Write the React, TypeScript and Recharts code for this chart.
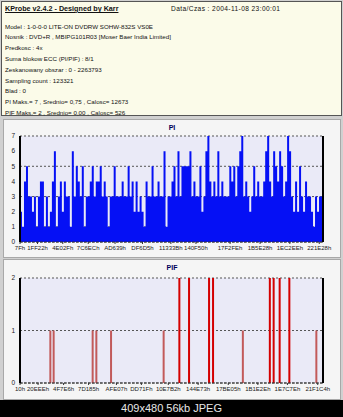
import React from 'react';
import { ComposedChart, Area, Bar, Cell, XAxis, YAxis, CartesianGrid } from 'recharts';

// scanned range (LBA)
const scanStart = 0;
const scanEnd = 2263793;

const headerLines = [
  'Model : 1-0-0-0 LITE-ON DVDRW SOHW-832S  VS0E',
  'Nosnik : DVD+R , MBIPG101R03 [Moser Baer India Limited]',
  'Predkosc : 4x',
  'Suma blokow ECC (PI/PIF) : 8/1',
  'Zeskanowany obszar : 0 - 2263793',
  'Sampling count : 123321',
  'Blad : 0',
  'PI Maks.= 7 , Srednio= 0,75 , Calosc= 12673',
  'PIF Maks.= 2 , Srednio= 0,00 , Calosc= 526',
];

// PI per sampling bin, read left to right
const piValues = [
  2, 1, 4, 5, 3, 3, 2, 3, 1, 3, 4, 4, 1, 3, 1, 2, 4, 6, 1, 3,
  4, 2, 4, 3, 3, 1, 6, 3, 5, 4, 3, 5, 1, 3, 3, 4, 5, 3, 4, 4,
  5, 3, 4, 3, 1, 3, 3, 5, 3, 3, 3, 4, 3, 3, 5, 3, 4, 2, 4, 2,
  3, 2, 1, 4, 3, 3, 5, 3, 3, 4, 3, 3, 6, 1, 3, 3, 4, 5, 3, 6,
  3, 5, 5, 5, 5, 6, 3, 4, 3, 3, 5, 2, 3, 6, 7, 4, 3, 4, 3, 6,
  3, 4, 3, 3, 3, 5, 4, 5, 3, 5, 6, 7, 3, 4, 3, 2, 3, 5, 3, 4,
  3, 3, 4, 6, 7, 4, 3, 6, 5, 4, 6, 5, 3, 4, 7, 6, 3, 2, 4, 2,
  5, 3, 2, 4, 3, 3, 2, 1, 3, 2, 3, 3,
];
const piTickLabels = ['7Fh', '1FF22h', '4E02Fh', '7C6ECh', 'AD639h', 'DF6D5h', '11333Bh', '140F50h', '17F2FEh', '1B5E28h', '1EC2EEh', '221E28h'];
const piYTicks = [0, 1, 2, 3, 4, 5, 6, 7];

// PIF hits: position (LBA) and count
const pifLba = [224100, 248800, 540200, 567800, 677600, 1070600, 1188000, 1260400, 1409800, 1439700, 1662400, 1864000, 1892500, 1937300, 2009800, 2211500];
const pifValues = [1, 1, 1, 1, 1, 1, 2, 2, 2, 2, 1, 2, 2, 2, 2, 1];
const pifTickLabels = ['10h', '20EEEh', '4F7E6h', '7D185h', 'AFE07h', 'DD71Fh', '10E7B2h', '144E73h', '17BE05h', '1B1E2Eh', '1E7C7Eh', '21F1C4h'];
const pifYTicks = [0, 1, 2];

const piData = piValues
  .map((v, i) => ({ lba: scanStart + Math.round((i * (scanEnd - scanStart)) / piValues.length), pi: v }))
  .concat([{ lba: scanEnd, pi: piValues[piValues.length - 1] }]);
const pifData = pifLba.map((lba, i) => ({ lba, pif: pifValues[i] }));

const font = '"Liberation Sans", Arial, sans-serif';
const tickStyle = { fontSize: 6, fill: '#222', fontFamily: font };
const yTickStyle = { fontSize: 6.5, fill: '#222', fontFamily: font };
const hexTicks = (labels: string[]) => labels.map((l) => parseInt(l, 16));
const hexFmt = (v: number) => v.toString(16).toUpperCase() + 'h';

function Panel({ top, height, title, children }: { top: number; height: number; title: string; children: React.ReactNode }) {
  return (
    <div style={{ position: 'absolute', left: 3, top, width: 336, height, background: '#f5f5f5', border: '1px solid #a8a8a8' }}>
      <div style={{ position: 'absolute', left: 0, right: 0, top: 4, textAlign: 'center', fontSize: 7, fontWeight: 'bold', color: '#00005a', fontFamily: font }}>
        {title}
      </div>
      {children}
    </div>
  );
}

function PiChart() {
  return (
    <ComposedChart width={343} height={136} data={piData} margin={{ top: 16, right: 0, left: 0, bottom: 1 }} style={{ position: 'absolute', left: -4, top: 0 }}>
      <CartesianGrid vertical={false} fill="#eaeaf7" stroke="#555" strokeDasharray="2 2" yAxisId="l" />
      <XAxis dataKey="lba" type="number" domain={[scanStart, scanEnd]} ticks={hexTicks(piTickLabels)} tickFormatter={hexFmt} interval={0}
        tick={tickStyle} tickSize={2} tickMargin={2} height={13} stroke="#333" axisLine={{ strokeDasharray: '3 1' }} />
      <YAxis yAxisId="l" domain={[0, 7]} ticks={piYTicks} tick={yTickStyle} tickLine={false} tickSize={3} width={20}
        axisLine={{ stroke: '#000', strokeWidth: 2 }} />
      <YAxis yAxisId="r" orientation="right" domain={[0, 7]} ticks={piYTicks} tick={yTickStyle} tickSize={3} width={20}
        stroke="#000" axisLine={{ stroke: '#000', strokeWidth: 2 }} />
      <Area yAxisId="l" type="stepAfter" dataKey="pi" fill="#0510f5" fillOpacity={1} stroke="none" isAnimationActive={false} />
    </ComposedChart>
  );
}

function PifChart() {
  return (
    <ComposedChart width={343} height={138} data={pifData} margin={{ top: 18, right: 0, left: 0, bottom: 2 }} style={{ position: 'absolute', left: -4, top: 0 }}>
      <CartesianGrid vertical={false} fill="#eaeaf7" stroke="#555" strokeDasharray="2 2" yAxisId="l" />
      <XAxis dataKey="lba" type="number" domain={[scanStart, scanEnd]} ticks={hexTicks(pifTickLabels)} tickFormatter={hexFmt} interval={0}
        tick={tickStyle} tickSize={2} tickMargin={2} height={13} stroke="#333" axisLine={{ strokeDasharray: '3 1' }} />
      <YAxis yAxisId="l" domain={[0, 2]} ticks={pifYTicks} tick={yTickStyle} tickLine={false} tickSize={3} width={20}
        axisLine={{ stroke: '#000', strokeWidth: 2 }} />
      <YAxis yAxisId="r" orientation="right" domain={[0, 2]} ticks={pifYTicks} tick={yTickStyle} tickSize={3} width={20}
        stroke="#000" axisLine={{ stroke: '#000', strokeWidth: 2 }} />
      <Bar yAxisId="l" dataKey="pif" barSize={2} isAnimationActive={false}>
        {pifData.map((d, i) => (
          <Cell key={i} fill={d.pif > 1 ? '#d40000' : '#c25a5a'} />
        ))}
      </Bar>
    </ComposedChart>
  );
}

export default function App() {
  return (
    <div style={{ position: 'absolute', left: 0, top: 0, width: 343, height: 417, background: '#d0d0d0', overflow: 'hidden', fontFamily: font }}>
      <div style={{ position: 'absolute', left: 1, top: 1, width: 339, height: 113, background: '#fbfbe9', border: '1px solid #555', color: '#111', fontSize: 6.2 }}>
        <div style={{ position: 'absolute', left: 3, top: 2, fontSize: 7.2, fontWeight: 'bold', textDecoration: 'underline' }}>KProbe v2.4.2 - Designed by Karr</div>
        <div style={{ position: 'absolute', left: 169, top: 3, fontSize: 6.6, letterSpacing: 0.4 }}>Data/Czas : 2004-11-08 23:00:01</div>
        {headerLines.map((line, i) => (
          <div key={i} style={{ position: 'absolute', left: 3, top: 20.5 + i * 10.8 }}>{line}</div>
        ))}
      </div>
      <Panel top={119} height={137} title="PI">
        <PiChart />
      </Panel>
      <Panel top={259} height={139} title="PIF">
        <PifChart />
      </Panel>
      <div style={{ position: 'absolute', left: 0, top: 400, width: 343, height: 17, background: '#000', color: '#e8e8e8', fontSize: 11, textAlign: 'center', lineHeight: '17px' }}>
        409x480 56kb JPEG
      </div>
    </div>
  );
}
